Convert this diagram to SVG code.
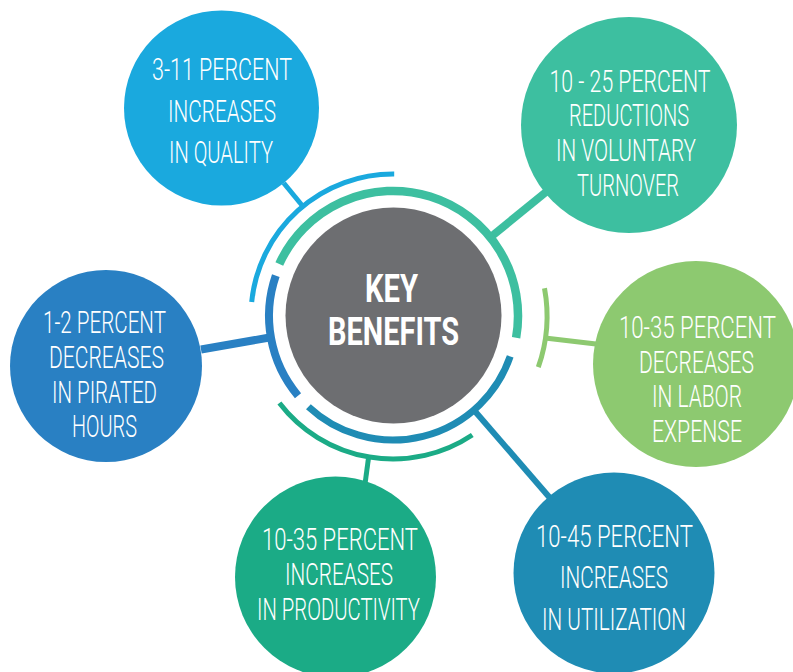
<svg xmlns="http://www.w3.org/2000/svg" width="793" height="672" viewBox="0 0 793 672">
<style>
.lbl{font-family:Roboto,"Liberation Sans",sans-serif;font-weight:300;font-size:32px;fill:#ffffff;text-anchor:middle}
.ctr{font-family:Roboto,"Liberation Sans",sans-serif;font-weight:700;font-size:39px;fill:#ffffff;text-anchor:middle}
.arc{fill:none}
</style>
<rect width="793" height="672" fill="#ffffff"/>
<g id="connectors" fill="none">
  <line x1="283.7" y1="183" x2="303" y2="206.5" stroke="#1aa9de" stroke-width="5"/>
  <line x1="546" y1="192" x2="492" y2="236" stroke="#3dbfa0" stroke-width="8"/>
  <line x1="201" y1="349.5" x2="271" y2="337.3" stroke="#2980c3" stroke-width="8"/>
  <line x1="545" y1="338" x2="596" y2="344" stroke="#8dc970" stroke-width="5"/>
  <line x1="473" y1="409" x2="550" y2="498" stroke="#1f8cb4" stroke-width="6"/>
  <line x1="368.5" y1="458" x2="365" y2="484" stroke="#1bab86" stroke-width="5"/>
</g>
<g id="rings">
  <path class="arc" d="M279.3 264 A125 125 0 0 1 516.1 337.7" stroke="#3dbfa0" stroke-width="8.5"/>
  <path class="arc" d="M251.7 302.1 A142 142 0 0 1 394.2 174" stroke="#1aa9de" stroke-width="5"/>
  <path class="arc" d="M298 395.7 A124 124 0 0 1 275.8 275.6" stroke="#2980c3" stroke-width="8"/>
  <path class="arc" d="M510.2 356.4 A124 124 0 0 1 308.4 406.7" stroke="#1f8cb4" stroke-width="7"/>
  <path class="arc" d="M472.3 435 A143 143 0 0 1 279.4 402.9" stroke="#1bab86" stroke-width="5"/>
  <path class="arc" d="M544.5 288.2 A154 154 0 0 1 538.3 367.2" stroke="#8dc970" stroke-width="5"/>
</g>
<g id="center">
  <circle cx="393.5" cy="315.5" r="108" fill="#6d6e71"/>
  <text class="ctr" transform="scale(0.69,1)"><tspan x="567.4" y="302" textLength="76.8" lengthAdjust="spacingAndGlyphs">KEY</tspan><tspan x="570.3" y="345" textLength="189.9" lengthAdjust="spacingAndGlyphs">BENEFITS</tspan></text>
</g>
<g id="quality">
  <circle cx="221.5" cy="108" r="97.5" fill="#1aa9de"/>
  <text class="lbl" transform="scale(0.6667,1)"><tspan x="333" y="80" textLength="210" lengthAdjust="spacingAndGlyphs">3-11 PERCENT</tspan><tspan x="333" y="122" textLength="162" lengthAdjust="spacingAndGlyphs">INCREASES</tspan><tspan x="331.5" y="163" textLength="156" lengthAdjust="spacingAndGlyphs">IN QUALITY</tspan></text>
</g>
<g id="turnover">
  <circle cx="629" cy="125" r="108" fill="#3dbfa0"/>
  <text class="lbl" transform="scale(0.6667,1)"><tspan x="945" y="92" textLength="241.5" lengthAdjust="spacingAndGlyphs">10 - 25 PERCENT</tspan><tspan x="943.5" y="126" textLength="180" lengthAdjust="spacingAndGlyphs">REDUCTIONS</tspan><tspan x="939" y="161" textLength="210" lengthAdjust="spacingAndGlyphs">IN VOLUNTARY</tspan><tspan x="942" y="196" textLength="153" lengthAdjust="spacingAndGlyphs">TURNOVER</tspan></text>
</g>
<g id="pirated">
  <circle cx="106" cy="366" r="96" fill="#2980c3"/>
  <text class="lbl" transform="scale(0.6667,1)"><tspan x="156.75" y="333" textLength="184.5" lengthAdjust="spacingAndGlyphs">1-2 PERCENT</tspan><tspan x="159.75" y="368" textLength="172.5" lengthAdjust="spacingAndGlyphs">DECREASES</tspan><tspan x="156.75" y="403" textLength="157.5" lengthAdjust="spacingAndGlyphs">IN PIRATED</tspan><tspan x="156.75" y="437" textLength="97.5" lengthAdjust="spacingAndGlyphs">HOURS</tspan></text>
</g>
<g id="labor">
  <circle cx="696" cy="364" r="103" fill="#8dc970"/>
  <text class="lbl" transform="scale(0.6667,1)"><tspan x="1046.25" y="338" textLength="235.5" lengthAdjust="spacingAndGlyphs">10-35  PERCENT</tspan><tspan x="1044.75" y="373" textLength="172.5" lengthAdjust="spacingAndGlyphs">DECREASES</tspan><tspan x="1045.5" y="407" textLength="135" lengthAdjust="spacingAndGlyphs">IN LABOR</tspan><tspan x="1045.5" y="442" textLength="135" lengthAdjust="spacingAndGlyphs">EXPENSE</tspan></text>
</g>
<g id="productivity">
  <circle cx="335.5" cy="577" r="100.5" fill="#1bab86"/>
  <text class="lbl" transform="scale(0.6667,1)"><tspan x="510" y="550" textLength="234" lengthAdjust="spacingAndGlyphs">10-35  PERCENT</tspan><tspan x="508.5" y="585" textLength="162" lengthAdjust="spacingAndGlyphs">INCREASES</tspan><tspan x="507.75" y="620" textLength="244.5" lengthAdjust="spacingAndGlyphs">IN PRODUCTIVITY</tspan></text>
</g>
<g id="utilization">
  <circle cx="614" cy="573" r="100.5" fill="#1f8cb4"/>
  <text class="lbl" transform="scale(0.6667,1)"><tspan x="921.75" y="547" textLength="235.5" lengthAdjust="spacingAndGlyphs">10-45 PERCENT</tspan><tspan x="921" y="588" textLength="162" lengthAdjust="spacingAndGlyphs">INCREASES</tspan><tspan x="921" y="630" textLength="216" lengthAdjust="spacingAndGlyphs">IN  UTILIZATION</tspan></text>
</g>
</svg>
